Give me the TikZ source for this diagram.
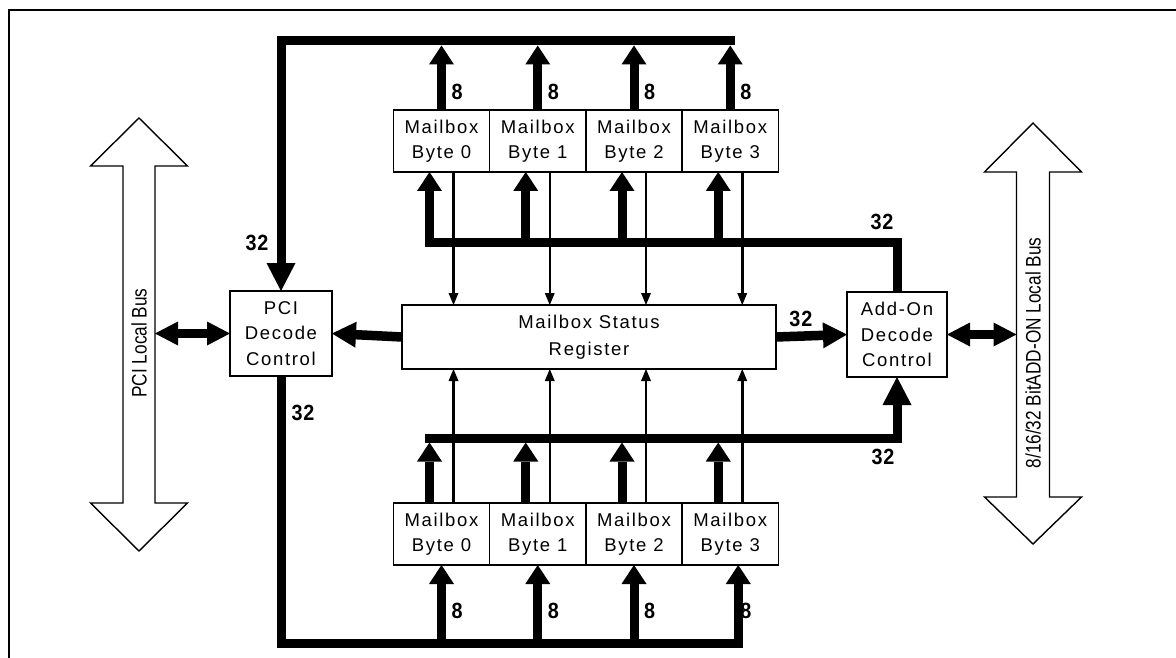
\documentclass[tikz,border=0pt]{standalone}
\usepackage{fontspec}
\setmainfont{Liberation Sans}
\newfontfamily\busfont[FakeStretch=0.82]{Liberation Sans}
\newfontfamily\boxfont[LetterSpace=9]{Liberation Sans}
\newfontfamily\lblfont[FakeStretch=0.9,LetterSpace=4]{Liberation Sans}
\usetikzlibrary{arrows.meta,positioning}
\tikzset{
  every node/.style={inner sep=0pt,outer sep=0pt},
  blk/.style={draw,line width=1.4pt,fill=white,align=center,font=\boxfont\fontsize{18.5}{25.5}\selectfont},
  mbox/.style={blk,minimum width=96.25pt,minimum height=62pt},
  ctl/.style={blk,minimum width=102pt,minimum height=85pt},
  bitlbl/.style={font=\lblfont\bfseries\fontsize{22}{22}\selectfont},
  buslbl/.style={rotate=90,font=\busfont\fontsize{21}{21}\selectfont},
  hollow/.style={draw,line width=1.4pt,fill=white,line join=miter},
  bus/.style={line width=9pt},
  busarr/.style={line width=9pt,-{Triangle[length=28pt,width=29pt,line width=0pt]}},
  bytearr/.style={line width=9pt,-{Triangle[length=19pt,width=25pt,line width=0pt]}},
  regarr/.style={line width=9.5pt,-{Triangle[length=24pt,width=26pt,line width=0pt]}},
  dblarr/.style={line width=9.5pt,{Triangle[length=23pt,width=24pt,line width=0pt]}-{Triangle[length=23pt,width=24pt,line width=0pt]}},
  thinarr/.style={line width=2.5pt,-{Triangle[length=12pt,width=10pt,line width=0pt]}}
}
\begin{document}
\begin{tikzpicture}[x=1pt,y=-1pt]
  \useasboundingbox (0,0) rectangle (1176,658);
  \draw[line width=2.5pt] (1176,10) -- (9,10) -- (9,658);

  % local buses
  \draw[hollow] (139,118) -- (187.5,166) -- (155,166) -- (155,503) -- (187.5,503) -- (139,551)
    -- (90.5,503) -- (123,503) -- (123,166) -- (90.5,166) -- cycle;
  \node[buslbl] (pcilbl) at (139,343) {PCI Local Bus};
  \coordinate (pcitap) at (155,333.5);
  \draw[hollow] (1033,123) -- (1081.5,172) -- (1049.5,172) -- (1049.5,497) -- (1081.5,497) -- (1033,544)
    -- (984.5,497) -- (1016.5,497) -- (1016.5,172) -- (984.5,172) -- cycle;
  \node[buslbl] (addlbl) at (1033,353) {8/16/32 BitADD-ON Local Bus};
  \coordinate (addtap) at (1016.5,334.5);

  % blocks
  \node[ctl] (pcidec) at (281,333.5) {PCI\\Decode\\Control};
  \node[ctl,minimum width=100pt] (adddec) at (897,334.5) {Add-On\\Decode\\Control};
  \node[blk,minimum width=374pt,minimum height=64pt,font=\boxfont\fontsize{18.5}{27}\selectfont] (msr) at (589,337) {Mailbox Status\\Register};
  \node[mbox] (tb0) at (441.5,141) {Mailbox\\Byte 0};
  \node[mbox] (bb0) at (441.5,534) {Mailbox\\Byte 0};
  \foreach \i/\j in {1/0,2/1,3/2} {
    \node[mbox,right=0pt of tb\j] (tb\i) {Mailbox\\Byte \i};
    \node[mbox,right=0pt of bb\j] (bb\i) {Mailbox\\Byte \i};
  }

  \coordinate (topbus) at (0,41);
  \coordinate (upbus) at (0,242);
  \coordinate (lowbus) at (0,438);
  \coordinate (botbus) at (0,643);
  \coordinate (lbleight) at (0,611);

  % 32 bit paths
  \draw[busarr] ([xshift=4.5pt]tb3.north |- topbus) -| (pcidec.north);
  \draw[bus] (adddec.north) |- ([xshift=-16.5pt]tb0.south |- upbus);
  \draw[busarr] ([xshift=-16.5pt]bb0.north |- lowbus) -| (adddec.south);
  \draw[bus] (pcidec.south) |- ([xshift=12.5pt]bb3.south |- botbus);
  \draw[regarr] (msr.west) -- (pcidec.east);
  \draw[regarr] (msr.east) -- (adddec.west) node[bitlbl,pos=0.35,above=9pt] {32};
  \draw[dblarr] (pcitap) -- (pcidec.west);
  \draw[dblarr] (adddec.east) -- (addtap);

  \node[bitlbl,xshift=-24pt,yshift=48pt] at (pcidec.north) {32};
  \node[bitlbl,xshift=22pt,yshift=-37pt] at (pcidec.south) {32};
  \node[bitlbl,yshift=20pt] at ([xshift=-15pt]adddec.north |- upbus) {32};
  \node[bitlbl,yshift=-19pt] at ([xshift=-14pt]adddec.south |- lowbus) {32};

  % byte paths
  \foreach \i in {0,...,3} {
    \draw[bytearr,shorten >=4.5pt] (tb\i.north) -- (tb\i.north |- topbus)
      node[bitlbl,pos=0.26,right=10pt] {8};
    \draw[bytearr] ([xshift=-12pt]tb\i.south |- upbus) -- ([xshift=-12pt]tb\i.south);
    \draw[thinarr] ([xshift=12pt]tb\i.south) -- ([xshift=12pt]tb\i.south |- msr.north);
    \draw[thinarr] ([xshift=12pt]bb\i.north) -- ([xshift=12pt]bb\i.north |- msr.south);
    \draw[bytearr,shorten >=4.5pt] ([xshift=-12pt]bb\i.north) -- ([xshift=-12pt]bb\i.north |- lowbus);
  }
  \foreach \i/\d in {0/0,1/0,2/0,3/8} {
    \node[bitlbl,anchor=west] at ([xshift=10pt]bb\i.south |- lbleight) {8};
    \draw[bytearr] ([xshift=\d pt]bb\i.south |- botbus) -- ([xshift=\d pt]bb\i.south);
  }
\end{tikzpicture}
\end{document}
